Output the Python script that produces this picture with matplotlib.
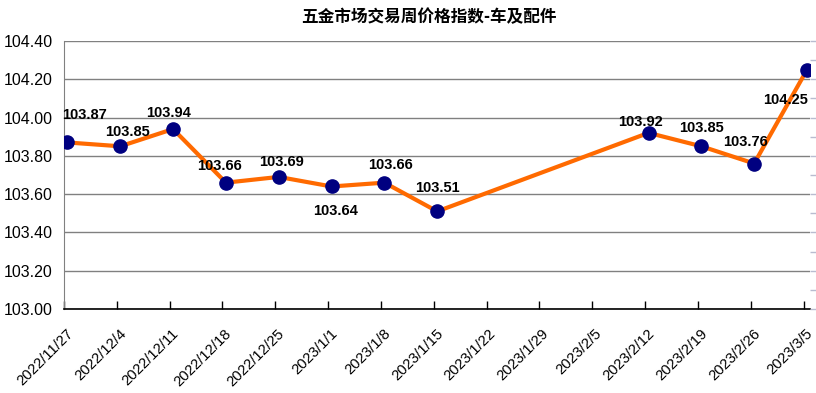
import numpy as np
import matplotlib
matplotlib.use("Agg")
import matplotlib.pyplot as plt
from matplotlib.transforms import ScaledTranslation

plt.rcParams['font.family'] = ['Liberation Sans', 'Noto Sans CJK SC', 'DejaVu Sans']

title = "五金市场交易周价格指数-车及配件"
dates = ["2022/11/27", "2022/12/4", "2022/12/11", "2022/12/18", "2022/12/25",
         "2023/1/1", "2023/1/8", "2023/1/15", "2023/1/22", "2023/1/29",
         "2023/2/5", "2023/2/12", "2023/2/19", "2023/2/26", "2023/3/5"]
values = [103.87, 103.85, 103.94, 103.66, 103.69, 103.64, 103.66, 103.51,
          np.nan, np.nan, np.nan, 103.92, 103.85, 103.76, 104.25]
yticks = [103.00, 103.20, 103.40, 103.60, 103.80, 104.00, 104.20, 104.40]
# label offsets in pixels (dx, dy)
label_offsets = [(17, 27), (7, 14), (-5, 16), (-6, 17), (3, 15), (4, -25),
                 (6, 18), (0, 23), None, None, None, (-8, 11), (0, 18),
                 (-9, 22), (-21, -30)]

fig = plt.figure(figsize=(8.16, 3.93), dpi=100)
ax = fig.add_axes([64/816, 1-309/393, (810-64)/816, (309-41)/393])

x = np.arange(len(dates))
y = np.array(values, dtype=float)
mask = ~np.isnan(y)

ax.plot(x[mask], y[mask], color='#FF6A00', lw=3, zorder=3,
        solid_joinstyle='miter')
ax.plot(x[mask], y[mask], 'o', color='#000080', ms=9.5, zorder=4)

for xi, yi, off in zip(x, y, label_offsets):
    if off is None or np.isnan(yi):
        continue
    ax.annotate(f"{yi:.2f}", (xi, yi), xytext=off, textcoords='offset pixels',
                ha='center', va='center', fontsize=10.5, fontweight='bold',
                color='#000000', zorder=5)

ax.set_xlim(-0.057, len(dates) - 1 + 0.057)
ax.set_ylim(103.0, 104.4)
ax.set_yticks(yticks)
ax.set_yticklabels([f"{v:.2f}" for v in yticks], fontsize=11.5)
ax.set_xticks(x - 0.065)
ax.set_xticklabels(dates, rotation=45, ha='right', rotation_mode='anchor',
                   fontsize=10.7)
ax.tick_params(axis='x', direction='in', length=6, width=1, color='black', pad=6)
ax.tick_params(axis='y', length=0, pad=8)
shift = ScaledTranslation(2/100, -9/100, fig.dpi_scale_trans)
for lab in ax.get_xticklabels():
    lab.set_transform(lab.get_transform() + shift)

ax.grid(axis='y', color='#808080', lw=1)
ax.set_axisbelow(True)
for s in ['top', 'right']:
    ax.spines[s].set_visible(False)
ax.spines['left'].set_color('#808080')
ax.spines['bottom'].set_color('black')
ax.spines['bottom'].set_linewidth(1.2)

# faint right-side tick marks
ax2 = ax.twinx()
ax2.set_ylim(103.0, 104.4)
ax2.set_yticks(np.arange(103.0, 104.41, 0.1))
ax2.set_yticklabels([])
ax2.tick_params(axis='y', direction='out', length=4, color='#B8BCD0', width=1)
for s in ax2.spines.values():
    s.set_visible(False)

fig.text(0.525, 1-17/393, title, ha='center', va='center', fontsize=12,
         fontweight='bold', family=['Noto Sans CJK SC', 'DejaVu Sans'])

fig.savefig("out.png", dpi=100)
